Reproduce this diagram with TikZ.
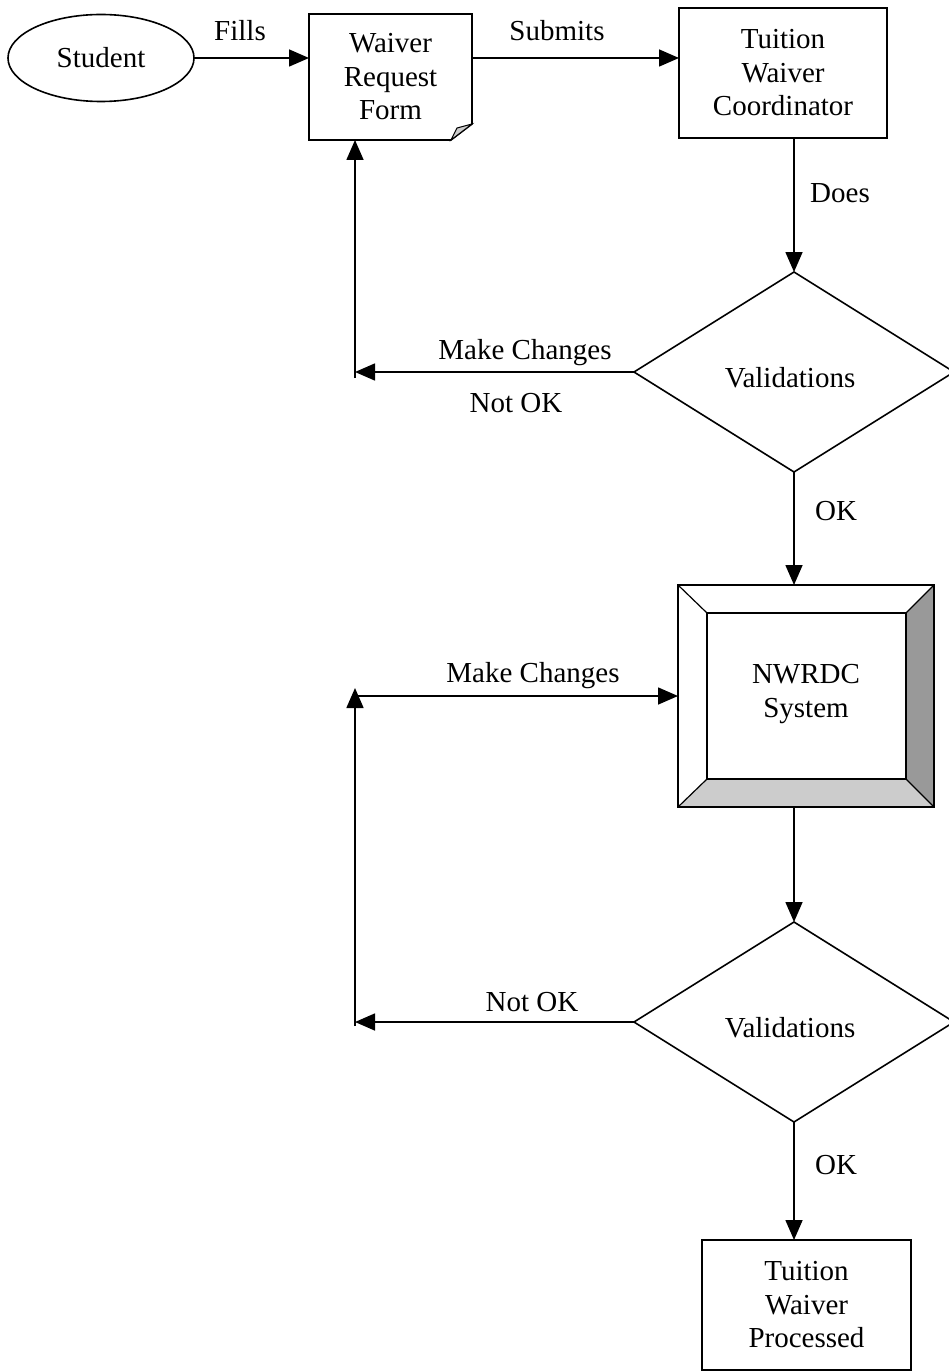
\documentclass[tikz,border=0pt]{standalone}
\usepackage{fontspec}
\setmainfont{Liberation Serif}
\usetikzlibrary{arrows.meta,shapes.geometric,calc}
\begin{document}
\begin{tikzpicture}[x=1pt,y=-1pt,
  every node/.style={font=\fontsize{29}{33.5}\selectfont, inner sep=0pt, outer sep=0pt},
  ln/.style={line width=1.6pt},
  arr/.style={line width=1.6pt, -{Triangle[length=20pt,width=17pt]}},
  boxnode/.style={draw, line width=1.6pt, rectangle, align=center},
  dec/.style={draw, line width=1.6pt, diamond, minimum width=320pt, minimum height=200pt}
]
\useasboundingbox (0,0) rectangle (949,1372);
% nodes
\node[draw, line width=1.6pt, ellipse, minimum width=186pt, minimum height=87pt] (stud) at (101,58) {Student};
\node[align=center, minimum width=163pt, minimum height=126pt] (form) at (390.5,77) {Waiver\\Request\\Form};
\node[boxnode, minimum width=208pt, minimum height=130pt] (coord) at (783,73) {Tuition\\Waiver\\Coordinator};
\node[dec] (dia1) at (794,372) {};
\node (v1) at (790,378) {Validations};
\node[minimum width=256pt, minimum height=222pt] (nw) at (806,696) {};
\node[dec] (dia2) at (794,1022) {};
\node (v2) at (790,1028) {Validations};
\node[boxnode, minimum width=209pt, minimum height=130pt] (fin) at (806.5,1305) {Tuition\\Waiver\\Processed};
% form outline with folded corner
\draw[ln] (form.south west) -- (form.north west) -- (form.north east) -- ($(form.south east)+(0,-16)$) -- ($(form.south east)+(-21,0)$) -- cycle;
\draw[line width=1pt, fill=black!20] ($(form.south east)+(0,-16)$) -- ($(form.south east)+(-21,0)$) -- ($(form.south east)+(-15,-12)$) -- cycle;
% NWRDC bevel box
\coordinate (iA) at ($(nw.north west)+(29,28)$);
\coordinate (iB) at ($(nw.north east)+(-28,28)$);
\coordinate (iC) at ($(nw.south east)+(-28,-28)$);
\coordinate (iD) at ($(nw.south west)+(29,-28)$);
\fill[black!40] (nw.north east) -- (nw.south east) -- (iC) -- (iB) -- cycle;
\fill[black!20] (nw.south west) -- (nw.south east) -- (iC) -- (iD) -- cycle;
\draw[ln] (nw.north west) rectangle (nw.south east);
\draw[line width=1.2pt] (iA) rectangle (iC);
\draw[line width=1.2pt] (nw.north west) -- (iA) (nw.north east) -- (iB) (nw.south east) -- (iC) (nw.south west) -- (iD);
\node[align=center] (nwt) at (806,694) {NWRDC\\System};
% connectors
\draw[arr] (stud.east) -- (stud.east -| form.west);
\node (l1) at (240,31) {Fills};
\draw[arr] (form.east |- stud.east) -- (coord.west |- stud.east);
\node (l2) at (557,31) {Submits};
\draw[arr] (dia1.north |- coord.south) -- (dia1.north);
\node (l3) at (840,193) {Does};
\coordinate (c1) at (355,372);
\draw[arr] (dia1.west) -- (c1);
\draw[arr] ($(c1)+(0,6)$) -- (c1 |- form.south);
\node (l4) at (525,353) {Make Changes};
\node (l5) at (516,403) {Not OK};
\draw[arr] (dia1.south) -- (dia1.south |- nw.north);
\node (l6) at (836,511) {OK};
\draw[arr] (nw.south -| dia1.south) -- (dia2.north);
\coordinate (c2) at (355,1022);
\coordinate (c3) at (355,688);
\draw[arr] (dia2.west) -- (c2);
\draw[arr] ($(c2)+(0,4)$) -- (c3);
\draw[arr] (c2 |- nw.west) -- (nw.west);
\node (l7) at (533,676) {Make Changes};
\node (l8) at (532,1002) {Not OK};
\draw[arr] (dia2.south) -- (dia2.south |- fin.north);
\node (l9) at (836,1165) {OK};
\end{tikzpicture}
\end{document}
